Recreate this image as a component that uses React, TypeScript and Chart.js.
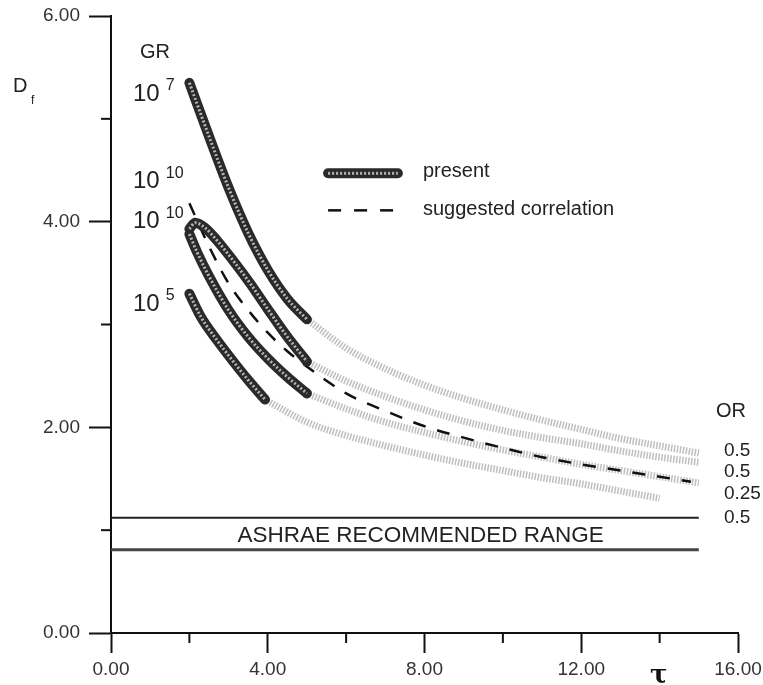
import React, { useEffect, useRef } from 'react';
import { Chart, registerables } from 'chart.js';
Chart.register(...registerables);

// ---- data ----
const xMinorTicks = [2, 6, 10, 14];
const yMinorTicks = [1, 3, 5];

// "present" (dark) curves
const presentAX = [2, 2.5, 3, 3.5, 4, 4.5, 5];
const presentAY = [5.35, 4.83, 4.33, 3.89, 3.53, 3.25, 3.05];
const presentBX = [2, 2.15, 2.4, 2.7, 3.1, 3.55, 4, 4.5, 5];
const presentBY = [3.93, 3.99, 3.94, 3.82, 3.63, 3.4, 3.15, 2.88, 2.64];
const presentCX = [2, 2.2, 2.5, 3, 3.5, 4, 4.5, 5];
const presentCY = [3.88, 3.7, 3.47, 3.14, 2.88, 2.67, 2.49, 2.33];
const presentDX = [2, 2.3, 2.7, 3.1, 3.5, 3.93];
const presentDY = [3.3, 3.07, 2.85, 2.65, 2.46, 2.27];

// faint continuations
const extX = [5, 6, 7, 8, 9, 10, 11, 12, 13, 14, 15];
const extAY = [3.05, 2.77, 2.57, 2.41, 2.28, 2.17, 2.07, 1.98, 1.89, 1.82, 1.75];
const extBY = [2.64, 2.45, 2.3, 2.17, 2.06, 1.97, 1.9, 1.84, 1.77, 1.71, 1.66];
const extCY = [2.33, 2.18, 2.05, 1.95, 1.86, 1.78, 1.71, 1.64, 1.58, 1.52, 1.46];
const extDX = [3.93, 5, 6, 7, 8, 9, 10, 11, 12, 13, 14];
const extDY = [2.27, 2.05, 1.92, 1.82, 1.73, 1.65, 1.58, 1.51, 1.45, 1.38, 1.31];

// suggested correlation (dashed)
const corrX = [2, 2.5, 3, 3.5, 4, 4.5, 5, 6, 7, 8, 9, 10, 11, 12, 13, 14, 14.8];
const corrY = [4.18, 3.76, 3.4, 3.14, 2.92, 2.74, 2.59, 2.33, 2.16, 2.01, 1.9, 1.8, 1.71, 1.64, 1.58, 1.52, 1.47];

// ASHRAE recommended range
const ashraeX = [0, 15];
const ashraeUpper = [1.12, 1.12];
const ashraeLower = [0.81, 0.81];

// text labels
const grBase = ['10', '10', '10', '10'];
const grExp = ['7', '10', '10', '5'];
const grLabelY = [5.24, 4.39, 4.0, 3.2];
const orLabels = ['0.5', '0.5', '0.25', '0.5'];
const orLabelY = [1.77, 1.57, 1.35, 1.12];

const FONT = "'Liberation Sans', Arial, sans-serif";

const pts = (xs: number[], ys: number[]) => xs.map((x, i) => ({ x, y: ys[i] }));

export default function App() {
  const ref = useRef<HTMLCanvasElement>(null);
  useEffect(() => {
    const canvas = ref.current!;
    const light = (data: any) => ({
      data,
      showLine: true,
      pointRadius: 0,
      borderColor: 'rgba(110,110,110,0.45)',
      borderWidth: 7,
      borderDash: [1.5, 1.5],
      cubicInterpolationMode: 'monotone',
      order: 4,
    });
    const darkOuter = (data: any) => ({
      data,
      showLine: true,
      pointRadius: 0,
      borderColor: '#2a2a2a',
      borderWidth: 10,
      borderCapStyle: 'round',
      cubicInterpolationMode: 'monotone',
      order: 1,
    });
    const darkInner = (data: any) => ({
      data,
      showLine: true,
      pointRadius: 0,
      borderColor: '#b4b4b4',
      borderWidth: 3,
      borderDash: [2, 2],
      cubicInterpolationMode: 'monotone',
      order: 0,
    });
    const hline = (data: any, w: number, c: string) => ({
      data,
      showLine: true,
      pointRadius: 0,
      borderColor: c,
      borderWidth: w,
      order: 3,
    });

    const annot = {
      id: 'annot',
      afterDraw(chart: any) {
        const ctx = chart.ctx;
        const xs = chart.scales.x;
        const ys = chart.scales.y;
        const px = (v: number) => xs.getPixelForValue(v);
        const py = (v: number) => ys.getPixelForValue(v);
        ctx.save();
        // minor ticks
        ctx.strokeStyle = '#111';
        ctx.lineWidth = 2;
        xMinorTicks.forEach((t) => {
          ctx.beginPath();
          ctx.moveTo(px(t), chart.chartArea.bottom);
          ctx.lineTo(px(t), chart.chartArea.bottom + 10);
          ctx.stroke();
        });
        yMinorTicks.forEach((t) => {
          ctx.beginPath();
          ctx.moveTo(chart.chartArea.left, py(t));
          ctx.lineTo(chart.chartArea.left - 10, py(t));
          ctx.stroke();
        });

        ctx.fillStyle = '#222';
        ctx.textBaseline = 'middle';
        const text = (s: string, x: number, y: number, size: number, align = 'left', weight = '') => {
          ctx.font = `${weight} ${size}px ${FONT}`;
          ctx.textAlign = align;
          ctx.fillText(s, x, y);
        };
        // axis titles
        text('D', px(-2.5), py(5.31), 20);
        text('f', px(-2.04), py(5.18), 12);
        text('GR', px(1.12), py(5.65), 20, 'center');
        grBase.forEach((b, i) => {
          text(b, px(0.56), py(grLabelY[i]), 24);
          text(grExp[i], px(1.4), py(grLabelY[i] + 0.08), 16);
        });
        text('OR', px(15.82), py(2.15), 20, 'center');
        orLabels.forEach((s, i) => text(s, px(15.64), py(orLabelY[i]), 19));
        text('ASHRAE RECOMMENDED RANGE', px(7.9), py(0.95), 22.5, 'center');
        ctx.font = `bold 26px 'DejaVu Serif', serif`;
        ctx.textAlign = 'center';
        ctx.fillStyle = '#111';
        ctx.fillText('τ', px(13.98), py(-0.42));

        // legend
        const lx0 = px(5.54), lx1 = px(7.32), ly0 = py(4.47);
        ctx.lineCap = 'round';
        ctx.strokeStyle = '#2a2a2a';
        ctx.lineWidth = 10;
        ctx.beginPath();
        ctx.moveTo(lx0, ly0);
        ctx.lineTo(lx1, ly0);
        ctx.stroke();
        ctx.lineCap = 'butt';
        ctx.strokeStyle = '#b4b4b4';
        ctx.lineWidth = 3;
        ctx.setLineDash([2, 2]);
        ctx.beginPath();
        ctx.moveTo(lx0, ly0);
        ctx.lineTo(lx1, ly0);
        ctx.stroke();
        const ly1 = py(4.11);
        ctx.strokeStyle = '#111';
        ctx.lineWidth = 2.5;
        ctx.setLineDash([13, 13]);
        ctx.beginPath();
        ctx.moveTo(lx0, ly1);
        ctx.lineTo(px(7.2), ly1);
        ctx.stroke();
        ctx.setLineDash([]);
        ctx.fillStyle = '#222';
        text('present', px(7.96), py(4.49), 20);
        text('suggested correlation', px(7.96), py(4.12), 20);
        ctx.restore();
      },
    };

    const chart = new Chart(canvas, {
      type: 'scatter',
      data: {
        datasets: [
          darkInner(pts(presentAX, presentAY)),
          darkInner(pts(presentBX, presentBY)),
          darkInner(pts(presentCX, presentCY)),
          darkInner(pts(presentDX, presentDY)),
          darkOuter(pts(presentAX, presentAY)),
          darkOuter(pts(presentBX, presentBY)),
          darkOuter(pts(presentCX, presentCY)),
          darkOuter(pts(presentDX, presentDY)),
          {
            data: pts(corrX, corrY),
            showLine: true,
            pointRadius: 0,
            borderColor: '#111',
            borderWidth: 2.5,
            borderDash: [13, 12],
            cubicInterpolationMode: 'monotone',
            order: 2,
          },
          hline(pts(ashraeX, ashraeUpper), 2, '#222'),
          hline(pts(ashraeX, ashraeLower), 3, '#444'),
          light(pts(extX, extAY)),
          light(pts(extX, extBY)),
          light(pts(extX, extCY)),
          light(pts(extDX, extDY)),
        ] as any,
      },
      options: {
        animation: false,
        responsive: false,
        events: [],
        layout: { padding: { left: 0, top: 16, right: 25, bottom: 0 } },
        plugins: { legend: { display: false }, tooltip: { enabled: false } },
        scales: {
          x: {
            type: 'linear',
            min: 0,
            max: 16,
            afterFit: (s: any) => {
              s.height = 52;
              s.paddingLeft = 0;
              s.paddingRight = 0;
            },
            border: { display: true, color: '#111', width: 2 },
            grid: {
              drawOnChartArea: false,
              drawTicks: true,
              tickLength: 20,
              tickWidth: 2,
              tickColor: (c: any) => (c.tick && c.tick.value % 4 === 0 ? '#111' : 'rgba(0,0,0,0)'),
            },
            ticks: {
              stepSize: 2,
              autoSkip: false,
              maxRotation: 0,
              padding: 5,
              color: '#333',
              font: { size: 19, family: FONT },
              callback: (v: any) => (Number(v) % 4 === 0 ? Number(v).toFixed(2) : ''),
            },
          },
          y: {
            type: 'linear',
            min: 0,
            max: 6,
            afterFit: (s: any) => {
              s.width = 111;
              s.paddingTop = 0;
              s.paddingBottom = 0;
            },
            border: { display: true, color: '#111', width: 2 },
            grid: {
              drawOnChartArea: false,
              drawTicks: true,
              tickLength: 22,
              tickWidth: 2,
              tickColor: (c: any) => (c.tick && c.tick.value % 2 === 0 ? '#111' : 'rgba(0,0,0,0)'),
            },
            ticks: {
              stepSize: 1,
              autoSkip: false,
              padding: 9,
              color: '#333',
              font: { size: 19, family: FONT },
              callback: (v: any) => (Number(v) % 2 === 0 ? Number(v).toFixed(2) : ''),
            },
          },
        },
      } as any,
      plugins: [annot],
    });
    return () => chart.destroy();
  }, []);
  return (
    <div style={{ position: 'fixed', left: 0, top: 0, width: 763, height: 685, background: '#fff' }}>
      <canvas ref={ref} width={763} height={685} style={{ display: 'block' }} />
    </div>
  );
}
